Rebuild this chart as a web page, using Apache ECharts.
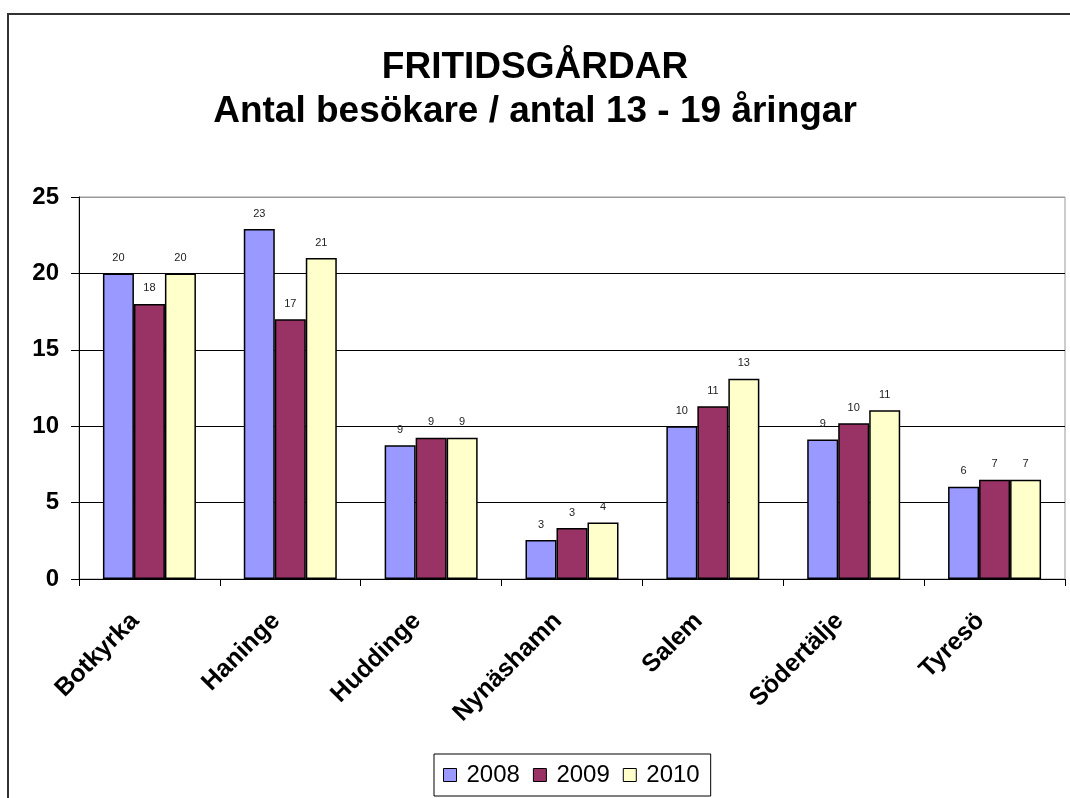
<!DOCTYPE html>
<html>
<head>
<meta charset="utf-8">
<title>Fritidsgårdar</title>
<script src="https://cdn.jsdelivr.net/npm/echarts@6/dist/echarts.min.js"></script>
<style>
    html,body{margin:0;padding:0;background:#fff;}
    #main{width:1070px;height:798px;}
</style>
</head>
<body>
<div id="main"></div>
<script>
    // kommuner
    var categories = ['Botkyrka','Haninge','Huddinge','Nynäshamn','Salem','Södertälje','Tyresö'];
    var years = ['2008','2009','2010'];
    // antal besökare / antal 13-19 åringar
    var v2008 = [20.0, 22.9, 8.75, 2.55, 10.0, 9.13, 6.03];
    var v2009 = [18.0, 17.0, 9.25, 3.33, 11.3, 10.2, 6.5];
    var v2010 = [20.0, 21.0, 9.25, 3.7, 13.1, 11.05, 6.5];
    var yTicks = [0, 5, 10, 15, 20, 25];
    var colors = ['#9999FF','#993366','#FFFFCC'];

    var font = '"Liberation Sans", Arial, sans-serif';

    function makeSeries(name,data,color){
        return {
            name:name,
            type:'bar',
            data:data,
            barWidth:31,
            barGap:'0%',
            itemStyle:{color:color,borderColor:'#000',borderWidth:1.5},
            label:{
                show:true,
                position:'top',
                distance:10,
                fontFamily:font,
                fontSize:11,
                color:'#222',
                formatter:function(p){return Math.round(p.value);}
            },
            emphasis:{disabled:true}
        };
    }

    var chart = echarts.init(document.getElementById('main'),null,{renderer:'canvas'});
    chart.setOption({
        animation:false,
        backgroundColor:'#fff',
        title:{
            text:'FRITIDSGÅRDAR\nAntal besökare / antal 13 - 19 åringar',
            left:'center',
            top:41,
            textStyle:{fontFamily:font,fontSize:37,fontWeight:'bold',color:'#000',lineHeight:44}
        },
        graphic:[{
            type:'rect',
            shape:{x:8,y:14,width:1100,height:900},
            style:{fill:'none',stroke:'#333',lineWidth:2},
            silent:true,
            z:-10
        }],
        legend:{
            data:years,
            left:434,
            top:754,
            orient:'horizontal',
            padding:[9,11,9,9],
            itemGap:13,
            itemWidth:13,
            itemHeight:13,
            icon:'rect',
            borderColor:'#000',
            borderWidth:1,
            itemStyle:{borderColor:'#000',borderWidth:1},
            textStyle:{fontFamily:font,fontSize:24,color:'#000',padding:[0,0,0,5]}
        },
        grid:{
            left:79,
            right:5,
            top:197,
            bottom:219,
            show:true,
            borderColor:'#999',
            borderWidth:1
        },
        xAxis:{
            type:'category',
            data:categories,
            axisLine:{lineStyle:{color:'#000',width:1}},
            axisTick:{show:true,length:7,lineStyle:{color:'#000'}},
            axisLabel:{
                rotate:45,
                margin:24,
                padding:[0,20,0,0],
                interval:0,
                fontFamily:font,
                fontSize:25,
                fontWeight:'bold',
                color:'#000'
            }
        },
        yAxis:{
            type:'value',
            min:yTicks[0],
            max:yTicks[yTicks.length-1],
            interval:5,
            axisLine:{show:true,lineStyle:{color:'#000',width:1}},
            axisTick:{show:true,length:8,lineStyle:{color:'#000'}},
            axisLabel:{
                margin:20,
                fontFamily:font,
                fontSize:24,
                fontWeight:'bold',
                color:'#000'
            },
            splitLine:{show:true,lineStyle:{color:['#000','#000','#000','#000','#000','#999'],width:1}}
        },
        series:[
            makeSeries(years[0],v2008,colors[0]),
            makeSeries(years[1],v2009,colors[1]),
            makeSeries(years[2],v2010,colors[2])
        ]
    });
</script>
</body>
</html>
